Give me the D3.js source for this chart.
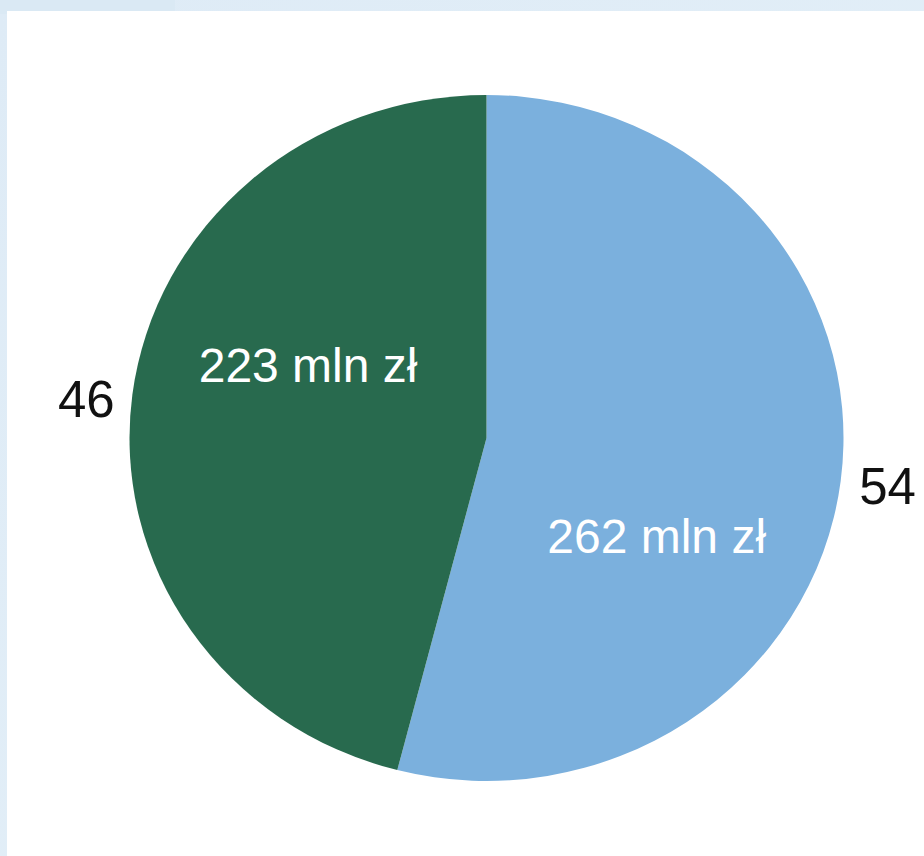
<!DOCTYPE html>
<html><head><meta charset="utf-8">
<script src="https://cdn.jsdelivr.net/npm/d3@7"></script>
<style>html,body{margin:0;padding:0;background:#fff;}svg{display:block;}</style>
</head><body>
<svg id="chart" width="924" height="856"></svg>
<script>
const categories = ["A", "B"];
const amounts = [262, 223];            // mln zł
const percents = [54, 46];
const amountLabels = ["262 mln zł", "223 mln zł"];
const colors = ["#7bb0dd", "#286a4e"];

const svg = d3.select("#chart");
const W = 924, H = 856;

// frame background
const defs = svg.append("defs");
const g1 = defs.append("linearGradient").attr("id","bg").attr("x1","0").attr("y1","0").attr("x2","1").attr("y2","1");
g1.append("stop").attr("offset","0").attr("stop-color","#deebf6");
g1.append("stop").attr("offset","1").attr("stop-color","#e4f0f8");
svg.append("rect").attr("width",W).attr("height",H).attr("fill","url(#bg)");
svg.append("rect").attr("x",0).attr("y",0).attr("width",175).attr("height",14).attr("fill","#dae9f4");
svg.append("rect").attr("x",7).attr("y",11).attr("width",W-7).attr("height",H-11).attr("fill","#ffffff");

const cx = 486.5, cy = 438, r = 343, sx = 357/343;

const pie = d3.pie().sort(null).value(d => d)(amounts);
const arc = d3.arc().innerRadius(0).outerRadius(r);

const g = svg.append("g").attr("transform", `translate(${cx},${cy})`);
const pg = g.append("g").attr("transform", `scale(${sx},1)`);
pg.selectAll("path").data(pie).join("path")
  .attr("d", arc)
  .attr("fill", (d,i) => colors[i]);

// outer percent labels near mid angle
const outerR = [404, 402];
const outerOffset = [-0.007, -0.031];
const mid = d => (d.startAngle + d.endAngle) / 2;
g.selectAll("text.pct").data(pie).join("text")
  .attr("class","pct")
  .attr("x", (d,i) => Math.sin(mid(d)+outerOffset[i])*outerR[i])
  .attr("y", (d,i) => -Math.cos(mid(d)+outerOffset[i])*outerR[i])
  .attr("text-anchor","middle").attr("dominant-baseline","central")
  .attr("font-family","'Liberation Sans', Arial, sans-serif")
  .attr("font-size", 51)
  .attr("fill","#111")
  .text((d,i) => percents[i]);

// inner amount labels
const innerR = [191, 186];
const angleOffset = [0.417, 0.272];
g.selectAll("text.amt").data(pie).join("text")
  .attr("class","amt")
  .attr("x", (d,i) => Math.sin(mid(d)+angleOffset[i])*innerR[i]*sx)
  .attr("y", (d,i) => -Math.cos(mid(d)+angleOffset[i])*innerR[i])
  .attr("text-anchor","middle").attr("dominant-baseline","central")
  .attr("font-family","'Liberation Sans', Arial, sans-serif")
  .attr("font-size", 48)
  .attr("fill","#ffffff")
  .text((d,i) => amountLabels[i]);
</script>
</body></html>
